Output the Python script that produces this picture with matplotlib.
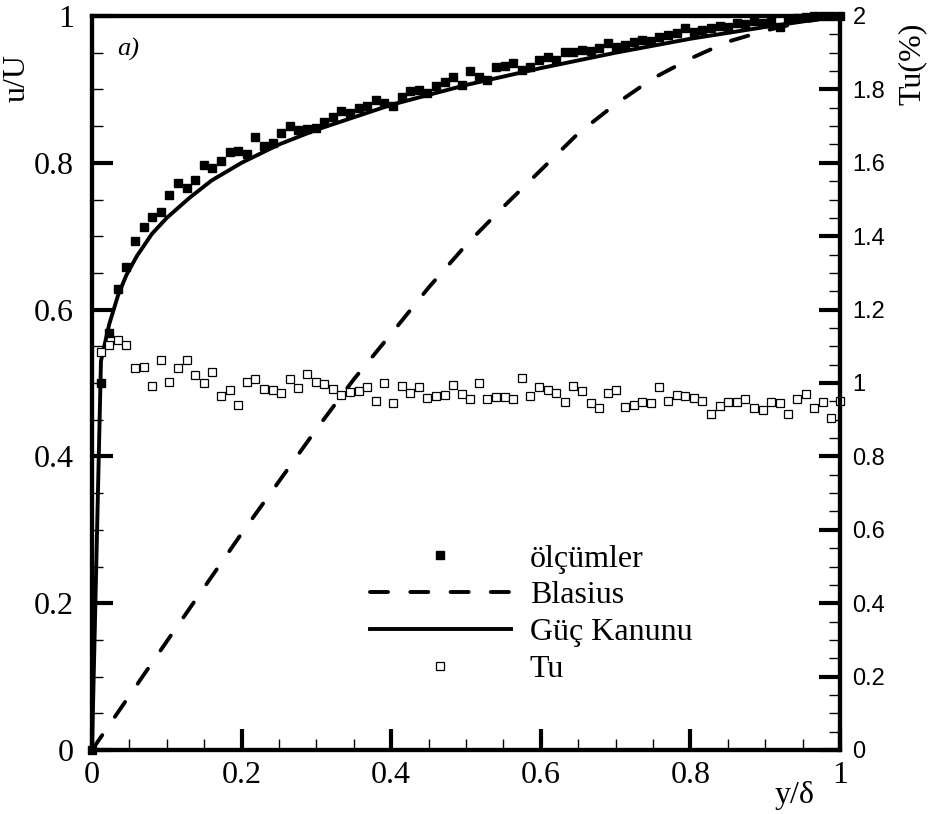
import numpy as np
import matplotlib
matplotlib.use("Agg")
import matplotlib.pyplot as plt
from matplotlib.ticker import MultipleLocator, FuncFormatter
from matplotlib.lines import Line2D

plt.rcParams['lines.scale_dashes'] = False
SERIF = ['Liberation Serif', 'DejaVu Serif']
SANS = ['Liberation Sans', 'DejaVu Sans']

# ---- data ----
u_meas = [0.0, 0.500, 0.568, 0.628, 0.658, 0.693, 0.712, 0.726, 0.733, 0.756, 0.772,
          0.766, 0.777, 0.797, 0.793, 0.802, 0.815, 0.816, 0.812, 0.835, 0.823,
          0.827, 0.841, 0.850, 0.845, 0.846, 0.847, 0.856, 0.862, 0.871, 0.868,
          0.875, 0.877, 0.886, 0.881, 0.877, 0.890, 0.898, 0.899, 0.895, 0.905,
          0.910, 0.917, 0.906, 0.925, 0.917, 0.913, 0.931, 0.932, 0.936, 0.926,
          0.931, 0.940, 0.944, 0.940, 0.951, 0.951, 0.954, 0.952, 0.956, 0.963,
          0.958, 0.960, 0.965, 0.967, 0.966, 0.971, 0.974, 0.977, 0.984, 0.978,
          0.981, 0.984, 0.986, 0.985, 0.990, 0.989, 0.993, 0.990, 0.993, 0.985,
          0.996, 0.997, 0.999, 1.0, 1.0, 1.0, 1.0]
y_meas = np.arange(len(u_meas)) / (len(u_meas) - 1)

tu = [1.084, 1.104, 1.117, 1.104, 1.041, 1.044, 0.992, 1.063, 1.003, 1.041, 1.063,
      1.022, 1.000, 1.030, 0.965, 0.981, 0.940, 1.003, 1.011, 0.984, 0.981, 0.973,
      1.011, 0.986, 1.025, 1.003, 0.997, 0.984, 0.967,
      0.975, 0.978, 0.989, 0.951, 1.000, 0.946, 0.992, 0.973, 0.989, 0.959, 0.965,
      0.967, 0.995, 0.970, 0.956, 1.000, 0.956, 0.962, 0.962, 0.956, 1.014, 0.965,
      0.989, 0.981, 0.973, 0.948, 0.992, 0.978, 0.946,
      0.932, 0.973, 0.981, 0.935, 0.940, 0.948, 0.946, 0.989, 0.951, 0.967, 0.965,
      0.959, 0.951, 0.916, 0.937, 0.948, 0.948, 0.956, 0.932, 0.926, 0.948, 0.946,
      0.916, 0.956, 0.970, 0.932, 0.948, 0.905, 0.951]
y_tu = np.arange(1, len(tu) + 1) / len(tu)

y_blasius = [0, 0.1, 0.2, 0.3, 0.35, 0.4, 0.45, 0.5, 0.55, 0.6, 0.65, 0.7, 0.75,
             0.8, 0.85, 0.9, 0.95, 1.0]
u_blasius = [0, 0.148, 0.295, 0.437, 0.505, 0.567, 0.63, 0.688, 0.74, 0.79, 0.84,
             0.88, 0.915, 0.942, 0.965, 0.98, 0.992, 1.0]

y_power = [0, 0.012, 0.023, 0.035, 0.046, 0.06, 0.08, 0.1, 0.13, 0.16, 0.2, 0.25,
           0.3, 0.4, 0.5, 0.6, 0.7, 0.8, 0.9, 1.0]
u_power = [0, 0.53, 0.58, 0.62, 0.647, 0.673, 0.703, 0.725, 0.752, 0.776, 0.80, 0.825,
           0.845, 0.879, 0.906, 0.929, 0.95, 0.969, 0.985, 1.0]

labels = ['ölçümler', 'Blasius', 'Güç Kanunu', 'Tu']

# ---- figure ----
W, H = 930, 814
fig = plt.figure(figsize=(W / 100, H / 100), dpi=100)
ax = fig.add_axes([92 / W, 64 / H, 748 / W, 734 / H])
ax2 = ax.twinx()

lw = 2.8
dash = (0, (13, 16))
ax.plot(y_blasius, u_blasius, color='black', lw=lw, ls=dash,
        dash_capstyle='round', label=labels[1])
ax.plot(y_power, u_power, color='black', lw=lw, solid_capstyle='round',
        label=labels[2])
ax.plot(y_meas, u_meas, ls='none', marker='s', ms=6.3, mfc='black', mec='black',
        clip_on=False, zorder=5, label=labels[0])
ax2.plot(y_tu, tu, ls='none', marker='s', ms=5.6, mfc='white', mec='black',
         mew=0.9, clip_on=False, label=labels[3])

ax.set_xlim(0, 1)
ax.set_ylim(0, 1)
ax2.set_ylim(0, 2)

fmt = FuncFormatter(lambda v, p: f'{v:g}')
for a in (ax.xaxis, ax.yaxis, ax2.yaxis):
    a.set_major_formatter(fmt)
ax.xaxis.set_major_locator(MultipleLocator(0.2))
ax.xaxis.set_minor_locator(MultipleLocator(0.05))
ax.yaxis.set_major_locator(MultipleLocator(0.2))
ax.yaxis.set_minor_locator(MultipleLocator(0.05))
ax2.yaxis.set_major_locator(MultipleLocator(0.2))
ax2.yaxis.set_minor_locator(MultipleLocator(0.05))

for a in (ax, ax2):
    for s in a.spines.values():
        s.set_linewidth(3.0)

ax.tick_params(which='both', direction='in', top=False, right=False)
ax.tick_params(which='major', length=15, width=3.0, labelsize=23,
               labelfontfamily='Liberation Serif')
ax.tick_params(axis='y', which='major', pad=13)
ax.tick_params(axis='x', which='major', pad=8)
ax.tick_params(which='minor', length=8, width=1.0)
ax2.tick_params(which='both', direction='in', left=False, right=True)
ax2.tick_params(which='major', length=15, width=3.0, labelsize=17, pad=9,
                labelfontfamily='Liberation Sans')
ax2.tick_params(which='minor', length=8, width=1.0)

# labels
fig.text(17 / W, 1 - 78 / H, 'u/U', rotation=90, ha='center', va='center',
         fontsize=23, family=SERIF)
fig.text(912 / W, 1 - 64 / H, 'Tu(%)', rotation=90, ha='center', va='center',
         fontsize=23, family=SERIF)
fig.text(795 / W, 1 - 795 / H, 'y/δ', ha='center', va='center',
         fontsize=23, family=SERIF)
ax.text(0.048, 0.955, 'a)', ha='center', va='center', fontsize=19,
        style='italic', family=SERIF)

# legend
handles = [
    Line2D([], [], ls='none', marker='s', ms=6.3, mfc='black', mec='black'),
    Line2D([], [], color='black', lw=lw, ls=dash, dash_capstyle='round'),
    Line2D([], [], color='black', lw=lw),
    Line2D([], [], ls='none', marker='s', ms=5.6, mfc='white', mec='black', mew=0.9),
]
leg = ax2.legend(handles, labels, loc='center left', bbox_to_anchor=(0.371, 0.185),
                 frameon=False, borderpad=0, borderaxespad=0, handlelength=4.42,
                 handletextpad=0.6, labelspacing=0.235,
                 prop={'family': SERIF, 'size': 23})

fig.savefig('out.png', dpi=100)
